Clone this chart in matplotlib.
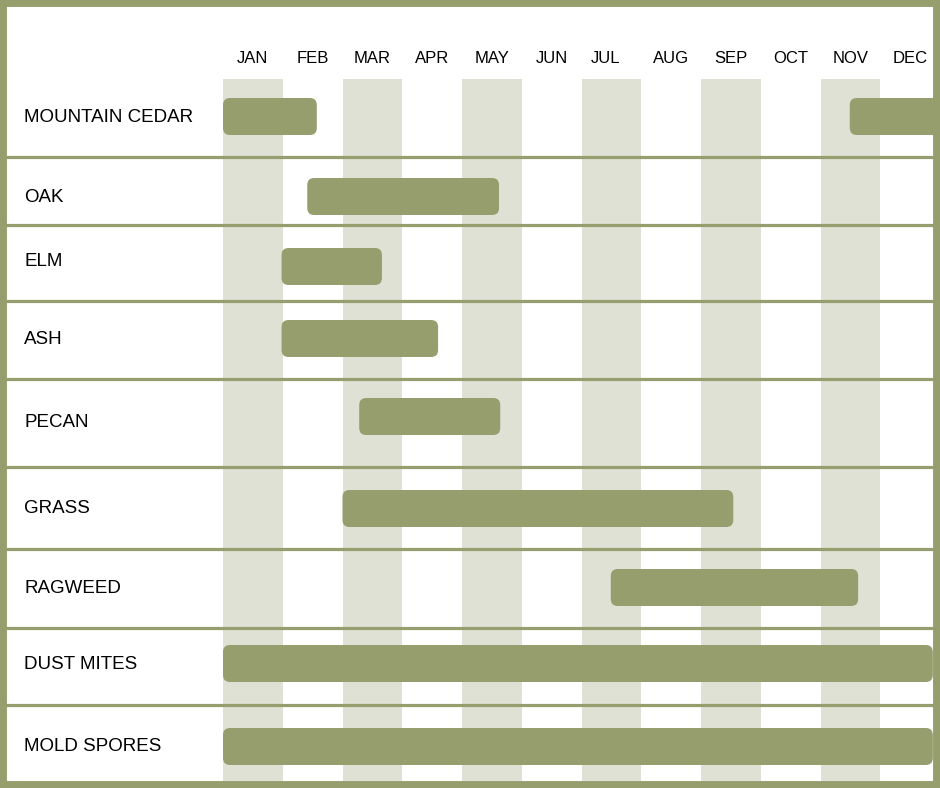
import matplotlib.pyplot as plt
from matplotlib.patches import FancyBboxPatch

months = ['JAN', 'FEB', 'MAR', 'APR', 'MAY', 'JUN',
          'JUL', 'AUG', 'SEP', 'OCT', 'NOV', 'DEC']
allergens = ['MOUNTAIN CEDAR', 'OAK', 'ELM', 'ASH', 'PECAN',
             'GRASS', 'RAGWEED', 'DUST MITES', 'MOLD SPORES']
# season spans in months (0 = start of Jan, 12 = end of Dec)
seasons = [
    [(0.0, 1.57), (10.49, 12.3)],
    [(1.41, 4.62)],
    [(0.98, 2.66)],
    [(0.98, 3.60)],
    [(2.28, 4.64)],
    [(2.0, 8.54)],
    [(6.49, 10.63)],
    [(0.0, 11.88)],
    [(0.0, 11.88)],
]

# layout (pixels from top)
bar_y = [116.5, 196.5, 266.5, 338.5, 416.5, 508.5, 587.5, 663.5, 746.5]
label_y = [117.5, 197.5, 261.5, 339.5, 422.5, 508.5, 588.5, 664.5, 746.5]
sep_y = [157, 225, 301, 379, 467, 549, 628, 705]
month_dx = [0, 0, 0, 0, 0, 0, -6, 0, 0, 0, 0, 0]  # px nudge of month labels
bar_h = 37
px_month = 59.75
x0_px = 223

olive = '#969e6e'
shade = '#dfe1d5'

plt.rcParams['font.family'] = ['Liberation Sans', 'DejaVu Sans']

fig = plt.figure(figsize=(9.4, 7.88), dpi=100)
ax = fig.add_axes([0, 0, 1, 1])
ax.set_xlim(-x0_px / px_month, 12)
ax.set_ylim(788, 0)
ax.set_xticks([])
ax.set_yticks([])

# shaded month columns
for i in range(0, 12, 2):
    ax.bar(i, 781 - 79, width=1, bottom=79, align='edge',
           color=shade, zorder=1)

# row separators
for y in sep_y:
    ax.axhline(y, color=olive, lw=2.3, zorder=2)

# season bars
r = 7 / px_month
for yc, spans in zip(bar_y, seasons):
    for a, b in spans:
        p = FancyBboxPatch((a, yc - bar_h / 2), b - a, bar_h,
                           boxstyle='round,pad=0,rounding_size=%f' % r,
                           mutation_aspect=px_month,
                           fc=olive, ec='none', zorder=3)
        ax.add_patch(p)

# month labels
for i, m in enumerate(months):
    ax.text(i + 0.5 + month_dx[i] / px_month, 58.5, m, ha='center',
            va='center', fontsize=12, color='black')

# allergen labels
lx = (24 - x0_px) / px_month
for name, y in zip(allergens, label_y):
    ax.text(lx, y, name, ha='left', va='center', fontsize=13.5,
            color='black')

for s in ax.spines.values():
    s.set_color(olive)
    s.set_linewidth(10)
    s.set_zorder(5)

fig.savefig('out.png', dpi=100)
